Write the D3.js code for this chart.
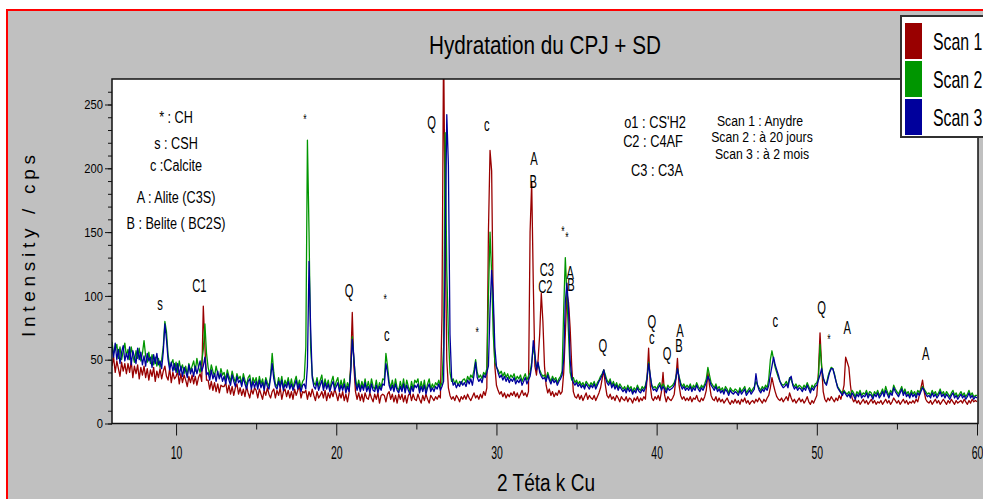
<!DOCTYPE html>
<html>
<head>
<meta charset="utf-8">
<script src="https://cdn.jsdelivr.net/npm/d3@7"></script>
<style>
	body { margin: 0; background: #fff; }
	text { font-family: "Liberation Sans", Arial, sans-serif; fill: #000; }
</style>
</head>
<body>
<svg id="chart" width="983" height="499"></svg>
<script>
// diffractograms, one value every 0.1 deg 2theta from 6 to 60
var twoThetaStart = 6, twoThetaStep = 0.1;

var scan1 = [
	45,52,40,49,43,37,48,41,47,39, 47,40,49,36,45,39,46,35,44,38, 45,36,43,34,42,37,44,33,41,36,
	43,35,41,45,37,34,43,32,40,35, 37,41,31,39,32,38,34,29,37,32, 38,31,37,30,36,39,33,92,60,34,
	34,27,33,26,32,25,31,24,30,29, 29,32,24,30,23,29,22,28,31,23, 28,22,27,21,29,24,20,27,23,28,
	26,20,27,23,19,26,22,28,23,20, 25,27,20,26,22,28,19,25,27,21, 26,20,25,19,27,22,26,29,20,25,
	24,26,19,25,21,27,22,18,25,20, 22,25,20,26,18,24,20,25,21,27, 23,18,24,20,25,18,23,17,24,45,
	87,45,25,19,24,18,23,17,24,20, 19,24,20,17,23,19,24,16,22,23, 22,17,23,25,19,23,17,22,16,23,
	19,23,17,22,16,22,24,18,23,19, 18,23,19,16,22,18,23,19,16,22, 20,18,21,19,22,20,85,300,150,50,
	28,22,19,21,18,22,20,17,21,19, 22,19,23,20,18,21,24,20,22,19, 23,20,25,22,28,150,214,198,90,45,
	30,26,23,25,21,24,20,23,21,24, 22,25,21,24,20,23,26,22,24,21, 25,150,189,110,45,38,50,70,102,80,
	45,30,24,27,22,25,21,24,22,26, 23,25,40,70,102,95,75,45,25,21, 20,23,19,22,18,21,24,19,22,20,
	19,22,18,21,24,28,35,42,30,22, 20,23,19,21,18,22,20,17,21,19, 18,21,17,20,19,16,20,18,21,17,
	20,18,21,19,35,59,30,20,18,21, 19,22,18,25,40,22,17,21,19,18, 20,23,35,51,30,22,19,21,18,20,
	18,21,17,20,19,22,18,17,20,18, 21,26,40,30,22,19,18,21,17,20, 17,19,16,18,20,17,15,18,16,19,
	16,18,15,19,17,20,16,18,15,17, 18,16,19,17,20,18,16,19,17,20, 22,28,36,30,25,21,19,18,20,17,
	19,21,18,24,20,17,19,16,18,20, 17,19,16,18,21,17,15,18,16,19, 22,40,71,45,25,19,17,20,18,21,
	19,17,20,18,22,19,24,30,52,48, 44,30,20,17,19,16,18,15,17,19, 16,18,15,17,19,16,18,15,17,16,
	18,15,17,19,16,18,15,17,20,18, 16,18,15,17,19,16,18,15,17,16, 18,16,19,17,22,28,34,25,19,17,
	16,18,15,17,19,16,18,15,17,19, 17,15,18,16,19,17,15,18,16,17, 18,16,19,17,15,18,16,19,17,18,
	17
];

var scan2 = [
	64,55,58,62,51,60,50,57,63,53, 58,50,60,53,48,57,51,59,49,55, 65,53,48,56,47,54,46,52,45,51,
	44,50,60,80,72,54,45,47,50,42, 48,40,49,42,46,39,45,38,47,41, 45,49,41,51,44,40,48,58,78,55,
	44,38,46,41,37,45,39,36,43,38, 40,34,42,37,33,41,36,32,39,35, 37,31,39,34,30,36,38,29,36,32,
	36,29,37,31,35,28,36,32,29,38, 55,40,31,29,36,30,37,28,34,30, 36,29,35,28,33,37,29,34,28,33,
	35,60,222,150,60,38,32,30,36,29, 34,38,28,35,29,34,27,33,37,28, 33,36,27,34,28,35,26,32,28,42,
	68,50,36,28,34,27,33,28,35,27, 33,27,35,29,27,34,26,32,28,35, 34,55,45,33,28,34,27,35,28,26,
	33,27,35,26,34,29,25,33,27,34, 32,35,26,33,27,34,25,31,35,27, 31,28,32,30,34,29,32,60,228,120,
	70,40,33,35,31,34,30,33,31,34, 35,32,37,34,38,36,42,50,40,36, 38,35,40,38,43,100,150,118,70,48,
	44,42,39,41,37,40,36,39,35,38, 36,39,34,37,35,38,33,36,39,34, 37,40,48,60,52,44,46,42,39,37,
	38,35,40,36,33,37,34,36,32,35, 37,41,90,130,100,70,40,34,36,32, 34,31,33,30,32,29,33,31,29,32,
	30,33,29,32,34,37,39,42,38,34, 32,35,30,33,29,32,28,31,29,27, 29,26,30,27,29,25,28,26,30,27,
	26,29,27,30,36,48,37,30,28,29, 27,30,32,28,31,29,26,30,28,29, 30,32,36,43,37,32,29,31,28,30,
	28,31,27,30,28,32,29,27,30,28, 31,35,44,38,32,30,28,31,27,29, 26,28,25,29,27,24,28,26,25,27,
	26,24,28,25,27,29,24,26,28,25, 27,29,33,30,28,26,29,27,30,28, 35,50,57,50,44,40,36,33,31,30,
	31,33,30,36,34,31,29,31,28,30, 29,27,30,28,32,29,26,30,28,31, 32,36,62,45,35,32,31,37,41,44,
	43,39,33,29,27,25,24,26,24,23, 25,22,26,24,21,25,23,26,22,24, 23,26,22,25,24,21,25,23,26,22,
	24,27,23,29,25,22,26,24,30,27, 25,23,26,29,24,27,23,25,22,26, 23,25,22,26,24,27,29,27,25,23,
	24,22,26,23,25,22,24,27,23,25, 22,25,23,21,24,26,22,24,21,23, 25,22,24,21,23,26,22,24,21,22,
	22
];

var scan3 = [
	60,52,63,50,58,47,56,61,49,55, 50,60,46,57,52,47,59,50,56,46, 53,45,55,49,52,44,54,47,55,46,
	49,43,56,78,66,50,42,48,41,47, 40,47,38,45,37,44,41,36,46,39, 43,37,45,39,44,49,41,45,52,38,
	40,34,42,35,39,33,41,35,39,33, 37,31,39,34,30,38,33,29,37,32, 34,29,36,31,27,33,35,27,33,28,
	33,27,34,28,32,26,34,29,27,36, 47,35,29,27,33,28,34,26,31,28, 33,27,31,26,30,34,27,31,25,30,
	31,27,45,127,75,36,29,27,33,26, 30,34,26,32,27,31,25,30,33,26, 29,32,25,30,26,31,24,29,25,40,
	66,52,32,26,31,25,30,26,32,25, 29,24,31,26,25,30,24,29,26,31, 30,47,40,30,26,30,25,31,26,24,
	29,25,31,24,30,26,23,29,25,30, 28,31,24,29,25,30,23,28,31,25, 28,25,29,27,31,26,29,33,140,242,
	203,70,36,30,32,28,31,29,33,30, 32,29,34,31,35,30,38,48,36,33, 35,32,38,36,40,45,90,120,100,60,
	45,40,36,38,34,37,33,36,32,35, 33,36,31,34,32,35,30,33,36,31, 34,37,45,65,55,42,48,40,37,35,
	36,33,38,34,31,35,32,34,30,33, 35,38,50,95,110,90,50,36,32,30, 32,29,31,28,30,27,31,29,27,30,
	28,31,27,30,33,35,38,42,36,32, 30,33,28,31,27,30,26,29,27,25, 27,24,28,25,27,23,26,24,28,25,
	24,27,25,28,35,47,38,29,26,27, 25,28,30,26,29,27,24,28,26,27, 28,30,35,43,36,30,27,29,26,28,
	26,29,25,28,26,30,27,25,28,26, 29,32,37,34,30,28,26,29,25,27, 24,26,23,27,25,22,26,24,23,25,
	24,22,26,23,25,27,22,24,26,23, 25,27,39,30,26,24,27,25,28,26, 30,38,45,52,46,42,38,33,30,28,
	29,31,28,35,37,30,27,29,26,28, 27,25,28,26,30,27,24,28,26,29, 30,34,38,43,36,32,30,35,40,43,
	43,38,33,28,26,24,22,25,23,21, 23,20,24,22,19,23,21,24,20,22, 21,24,20,23,22,19,23,21,24,20,
	22,25,21,26,23,20,24,22,28,25, 23,21,24,27,22,25,21,23,20,24, 21,23,20,24,22,25,28,26,23,21,
	22,20,24,21,23,20,22,25,21,23, 20,23,21,19,22,24,20,22,19,21, 23,20,22,19,21,24,20,22,19,21,
	20
];

var scanNames = ['Scan 1', 'Scan 2', 'Scan 3'];
var scanColors = ['#990000', '#009600', '#00009c'];

var xTicks = [10, 20, 30, 40, 50, 60];
var xMinorTicks = [15, 25, 35, 45, 55];
var yTicks = [0, 50, 100, 150, 200, 250];
var yMinorTicks = d3.range(0, 261, 10);

// phase marks over the peaks: [text, 2theta, cps]
var peakTags = [
	['s', 9.0, 93], ['C1', 11.45, 108], ['*', 18.05, 241], ['Q', 20.8, 104],
	['*', 23.05, 100], ['c', 23.15, 68], ['Q', 25.95, 236], ['c', 29.4, 233],
	['*', 28.8, 74], ['A', 32.35, 208], ['B', 32.3, 190], ['*', 34.15, 153],
	['*', 34.4, 148], ['C3', 33.15, 121], ['C2', 33.05, 107], ['A', 34.6, 118],
	['B', 34.65, 109], ['Q', 36.65, 61], ['Q', 39.7, 80], ['c', 39.7, 66],
	['Q', 40.65, 55], ['A', 41.45, 73], ['B', 41.4, 61], ['c', 47.4, 79],
	['Q', 50.3, 91], ['*', 50.75, 68], ['A', 51.9, 75], ['A', 56.8, 55]
];

var phaseKey = ['* : CH', 's : CSH', 'c :Calcite', 'A : Alite (C3S)', 'B : Belite ( BC2S)'];
var phaseKey2 = ["o1 : CS'H2", 'C2 : C4AF', 'C3 : C3A'];
var scanKey = ['Scan 1 : Anydre', 'Scan 2 : à 20 jours', 'Scan 3 : à 2 mois'];

var svg = d3.select('#chart'),
	plotLeft = 112, plotRight = 978, plotTop = 79, plotBottom = 423.5;

var scaleX = d3.scaleLinear().domain([6, 60]).range([plotLeft, 977]);
var scaleY = d3.scaleLinear().domain([0, 250]).range([plotBottom, 104.5]);

// squeeze text horizontally, the original typeface is very condensed
function squeeze(sel, k) {
	sel.each(function () {
		var w = this.getComputedTextLength();
		d3.select(this).attr('textLength', w * k).attr('lengthAdjust', 'spacingAndGlyphs');
	});
}

// window frame
svg.append('rect')
	.attr('x', 7).attr('y', 10)
	.attr('width', 1000).attr('height', 500)
	.attr('fill', '#c0c0c0')
	.attr('stroke', '#ff0000')
	.attr('stroke-width', 2);

svg.append('text')
	.attr('x', 545).attr('y', 54)
	.attr('text-anchor', 'middle')
	.style('font-size', '25px')
	.attr('textLength', 232)
	.attr('lengthAdjust', 'spacingAndGlyphs')
	.text('Hydratation du CPJ + SD');

svg.append('rect')
	.attr('x', plotLeft).attr('y', plotTop)
	.attr('width', plotRight - plotLeft).attr('height', plotBottom - plotTop)
	.attr('fill', '#fff');

svg.append('defs').append('clipPath')
	.attr('id', 'clip')
	.append('rect')
	.attr('x', plotLeft).attr('y', plotTop)
	.attr('width', plotRight - plotLeft).attr('height', plotBottom - plotTop);

var line = d3.line()
	.x(function (d, i) { return scaleX(twoThetaStart + i * twoThetaStep); })
	.y(function (d) { return scaleY(d); });

var plot = svg.append('g').attr('clip-path', 'url(#clip)');
[scan1, scan2, scan3].forEach(function (scan, i) {
	plot.append('path')
		.datum(scan)
		.attr('fill', 'none')
		.attr('stroke', scanColors[i])
		.attr('stroke-width', 1.3)
		.attr('stroke-linejoin', 'round')
		.attr('d', line);
});

// plot border
svg.append('path')
	.attr('d', 'M' + plotRight + ',' + plotTop + 'H' + plotLeft + 'V' + plotBottom + 'H' + plotRight + 'Z')
	.attr('fill', 'none')
	.attr('stroke', '#111')
	.attr('stroke-width', 1.5);

// axes
svg.append('g')
	.attr('transform', 'translate(' + plotLeft + ',0)')
	.call(d3.axisLeft(scaleY).tickValues(yMinorTicks).tickSize(4).tickFormat(''));
var yAxis = svg.append('g')
	.attr('transform', 'translate(' + plotLeft + ',0)')
	.call(d3.axisLeft(scaleY).tickValues(yTicks).tickSize(7).tickPadding(2));

svg.append('g')
	.attr('transform', 'translate(0,' + plotBottom + ')')
	.call(d3.axisBottom(scaleX).tickValues(xMinorTicks).tickSize(6).tickFormat(''));
var xAxis = svg.append('g')
	.attr('transform', 'translate(0,' + plotBottom + ')')
	.call(d3.axisBottom(scaleX).tickValues(xTicks).tickSize(12));

svg.selectAll('.domain').remove();
svg.selectAll('.tick line').attr('stroke', '#111');
svg.selectAll('.tick text').attr('font-family', null).attr('fill', '#000');

var yLabels = yAxis.selectAll('text').style('font-size', '13px');
squeeze(yLabels, 0.86);

xAxis.selectAll('text')
	.attr('y', 36).attr('dy', 0)
	.style('font-size', '18px')
	.attr('transform', 'scale(0.58,1)');

svg.append('text')
	.attr('transform', 'translate(35,246) rotate(-90)')
	.attr('text-anchor', 'middle')
	.style('font-size', '19px')
	.attr('textLength', 182)
	.attr('lengthAdjust', 'spacing')
	.text('Intensity / cps');

svg.append('text')
	.attr('x', 546).attr('y', 491)
	.attr('text-anchor', 'middle')
	.style('font-size', '23px')
	.attr('textLength', 98)
	.attr('lengthAdjust', 'spacingAndGlyphs')
	.text('2 Téta k Cu');

// peak labels
var tags = svg.append('g').selectAll('text')
	.data(peakTags)
	.enter().append('text')
	.attr('x', function (d) { return scaleX(d[1]); })
	.attr('y', function (d) { return scaleY(d[2]); })
	.attr('dy', function (d) {
		if (d[0] === '*') return '0.55em';
		if (d[0] === 'c' || d[0] === 's') return '0.26em';
		return '0.36em';
	})
	.attr('text-anchor', 'middle')
	.style('font-size', function (d) { return d[0] === '*' ? '14px' : '18px'; })
	.text(function (d) { return d[0]; });
squeeze(tags, 0.62);

// phase keys inside the plot
var key1 = svg.append('g').selectAll('text')
	.data(phaseKey)
	.enter().append('text')
	.attr('x', 176)
	.attr('y', function (d, i) { return [123, 149, 171, 203, 229][i]; })
	.attr('text-anchor', 'middle')
	.style('font-size', '16px')
	.text(function (d) { return d; });
squeeze(key1, 0.79);

var key2 = svg.append('g').selectAll('text')
	.data(phaseKey2)
	.enter().append('text')
	.attr('x', function (d, i) { return [655, 653, 657][i]; })
	.attr('y', function (d, i) { return [128, 147, 176][i]; })
	.attr('text-anchor', 'middle')
	.style('font-size', '16px')
	.text(function (d) { return d; });
squeeze(key2, 0.8);

var key3 = svg.append('g').selectAll('text')
	.data(scanKey)
	.enter().append('text')
	.attr('x', function (d, i) { return [760, 762, 762][i]; })
	.attr('y', function (d, i) { return [126, 142, 159][i]; })
	.attr('text-anchor', 'middle')
	.style('font-size', '14px')
	.text(function (d) { return d; });
squeeze(key3, 0.87);

// legend box, runs off the right edge
var legend = svg.append('g');
legend.append('rect')
	.attr('x', 901).attr('y', 16)
	.attr('width', 100).attr('height', 121)
	.attr('fill', '#fff')
	.attr('stroke', '#303030')
	.attr('stroke-width', 2);
scanNames.forEach(function (name, i) {
	legend.append('rect')
		.attr('x', 905).attr('y', 23 + i * 38)
		.attr('width', 17).attr('height', 36)
		.attr('fill', scanColors[i]);
	var t = legend.append('text')
		.attr('x', 933).attr('y', 50 + i * 38)
		.style('font-size', '24px')
		.text(name);
	squeeze(t, 0.66);
});
</script>
</body>
</html>
